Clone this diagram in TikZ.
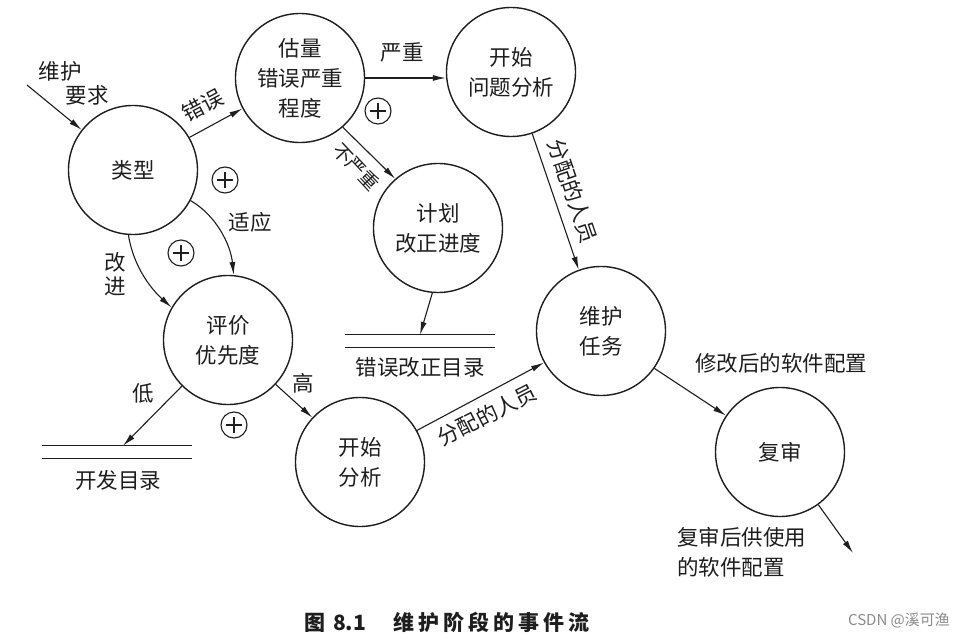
\documentclass[tikz,border=0pt]{standalone}
\usepackage{fontspec}
\newfontfamily\cjk{Noto Sans CJK SC}
\usetikzlibrary{arrows.meta}
\definecolor{ink}{HTML}{1E1E1E}
\begin{document}
\begin{tikzpicture}[x=1pt,y=-1pt,
  proc/.style={circle, draw=ink, line width=1.4pt, minimum size=129pt, inner sep=0pt, align=center, text=ink,
    font=\cjk\fontsize{21.5}{30}\selectfont},
  lbl/.style={inner sep=1pt, text=ink, font=\cjk\fontsize{21.5}{30}\selectfont},
  arr/.style={draw=ink, line width=1.1pt, -{Latex[length=13pt,width=6pt]}},
  storeline/.style={draw=ink, line width=1.1pt},
  store/.style={minimum width=150pt, minimum height=12pt, inner sep=0pt},
  oplus/.style={circle, draw=ink, line width=1.1pt, minimum size=26pt, inner sep=0pt,
    path picture={
      \draw[ink, line width=1.1pt] ([yshift=-5pt]path picture bounding box.north) -- ([yshift=5pt]path picture bounding box.south);
      \draw[ink, line width=1.1pt] ([xshift=5pt]path picture bounding box.west) -- ([xshift=-5pt]path picture bounding box.east);
    }},
]
\fill[white] (0,0) rectangle (964,639);
\useasboundingbox (0,0) rectangle (964,639);

% processes
\node[proc] (type) at (133,170) {类型};
\node[proc] (est)  at (300,78)  {估量\\错误严重\\程度};
\node[proc] (prob) at (511,72)  {开始\\问题分析};
\node[proc] (plan) at (438,228) {计划\\改正进度};
\node[proc] (eval) at (228,340) {评价\\优先度};
\node[proc] (sa)   at (360,462) {开始\\分析};
\node[proc] (task) at (601,331) {维护\\任务};
\node[proc] (rev)  at (780,452) {复审};

% stores
\node[store] (s1) at (420,341) {};
\draw[storeline] (s1.north west) -- (s1.north east) (s1.south west) -- (s1.south east);
\node[lbl] (s1l) at (420,367) {错误改正目录};
\node[store] (s2) at (117,452) {};
\draw[storeline] (s2.north west) -- (s2.north east) (s2.south west) -- (s2.south east);
\node[lbl] (s2l) at (118,480) {开发目录};

% oplus markers
\node[oplus] (p1) at (378,111) {};
\node[oplus] (p2) at (225,180) {};
\node[oplus] (p3) at (181,253) {};
\node[oplus] (p4) at (234,425) {};

% inputs/outputs
\coordinate (in) at (27,85);
\coordinate (out) at (853,553);

% connectors
\draw[arr] (in) -- (type.142);
\draw[arr] (type.30) -- (est.208);
\draw[arr] (est.east) -- (est.east -| prob.west);
\draw[arr] (est.-49) -- (plan.131);
\draw[arr] (type.-28) .. controls +(26,15) and +(-3,-30) .. (eval.85);
\draw[arr] (type.-94) .. controls +(5,32) and +(-20,-18) .. (eval.150);
\draw[arr] (plan.-95) -- (s1.north);
\draw[arr] (eval.-135) -- ([xshift=6pt]s2.north);
\draw[arr] (eval.-43) -- (sa.137);
\draw[arr] (sa.29) -- (task.209);
\draw[arr] (prob.-71) -- (task.110);
\draw[arr] (task.-35) -- (rev.146);
\draw[arr] (rev.-54) -- (out);

% labels
\node[lbl] (l1a) at (60,71) {维护};
\node[lbl] (l1b) at (87,95) {要求};
\node[lbl, rotate=28] (l2) at (203,105) {错误};
\node[lbl] (l3) at (402,52) {严重};
\node[lbl, rotate=-47, font=\cjk\fontsize{19}{24}\selectfont] (l4) at (356,167) {不严重};
\node[lbl] (l5) at (250,222) {适应};
\node[lbl] (l6a) at (115,262) {改};
\node[lbl] (l6b) at (115,286) {进};
\node[lbl] (l7) at (143,393) {低};
\node[lbl] (l8) at (303,383) {高};
\node[lbl, rotate=27] (l9) at (487,415) {分配的人员};
\node[lbl, rotate=-71] (l10) at (573,191) {分配的人员};
\node[lbl] (l11) at (781,363) {修改后的软件配置};
\node[lbl, anchor=west, align=left] (l12) at (676,552) {复审后供使用\\的软件配置};

% caption
\node[inner sep=0pt, text=ink, font=\cjk\bfseries\fontsize{21}{24}\selectfont] (cap) at (447,622)
  {图\hspace{8pt}8.1\hspace{28pt}维\hspace{4pt}护\hspace{4pt}阶\hspace{4pt}段\hspace{4pt}的\hspace{4pt}事\hspace{4pt}件\hspace{4pt}流};
\node[inner sep=0pt, text=black!45, font=\cjk\fontsize{15}{18}\selectfont] (wm) at (899,621) {CSDN @溪可渔};
\end{tikzpicture}
\end{document}
